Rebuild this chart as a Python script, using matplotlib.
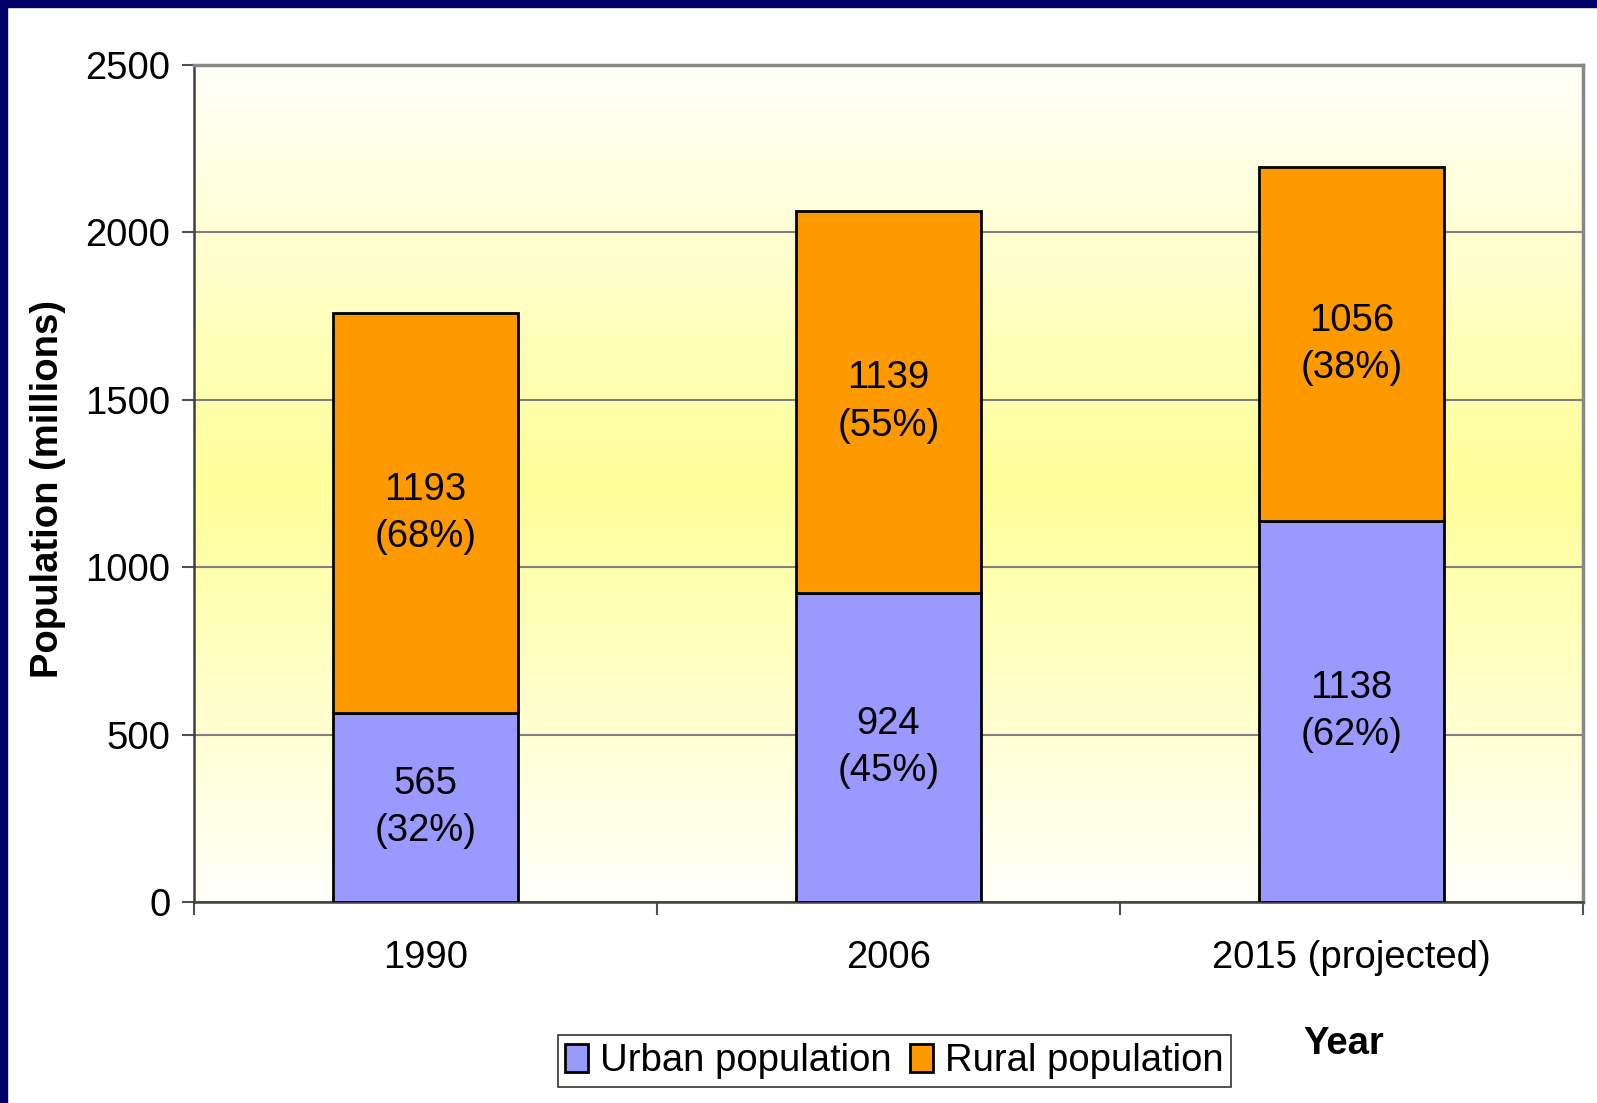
import matplotlib.pyplot as plt
import numpy as np
from matplotlib.colors import LinearSegmentedColormap
from matplotlib.patches import Rectangle

years = ['1990', '2006', '2015 (projected)']
urban = [565, 924, 1138]
rural = [1193, 1139, 1056]
urban_pct = [32, 45, 62]
rural_pct = [68, 55, 38]

plt.rcParams['font.family'] = ['Liberation Sans', 'DejaVu Sans']
fs = 27.5

fig = plt.figure(figsize=(15.97, 11.03), dpi=100)
fig.patch.set_facecolor('white')

# navy slide border on top and left
fig.patches.append(Rectangle((0, 1 - 7 / 1103), 1, 7 / 1103, transform=fig.transFigure,
                             color='#000066', zorder=0))
fig.patches.append(Rectangle((0, 0), 7 / 1597, 1, transform=fig.transFigure,
                             color='#000066', zorder=0))

ax = fig.add_axes([194 / 1597, 201 / 1103, (1583 - 194) / 1597, (902 - 65) / 1103])

# white -> yellow -> white background
cmap = LinearSegmentedColormap.from_list('bg', ['#FFFFFA', '#FFFF99', '#FFFFFA'])
grad = np.linspace(0, 1, 256).reshape(-1, 1)
ax.imshow(grad, cmap=cmap, aspect='auto', extent=[0, 1, 0, 1],
          transform=ax.transAxes, zorder=0)

x = np.arange(len(years))
w = 0.4
ax.bar(x, urban, w, color='#9999FF', edgecolor='black', linewidth=2,
       label='Urban population', zorder=3)
ax.bar(x, rural, w, bottom=urban, color='#FF9900', edgecolor='black', linewidth=2,
       label='Rural population', zorder=3)

for i in range(len(years)):
    ax.text(x[i], urban[i] / 2, f'{urban[i]}\n({urban_pct[i]}%)', ha='center', va='center',
            fontsize=fs, linespacing=1.4, zorder=4)
    ax.text(x[i], urban[i] + rural[i] / 2, f'{rural[i]}\n({rural_pct[i]}%)', ha='center',
            va='center', fontsize=fs, linespacing=1.4, zorder=4)

ax.set_xlim(-0.5, 2.5)
ax.set_ylim(0, 2500)
ax.set_yticks([0, 500, 1000, 1500, 2000, 2500])
ax.yaxis.grid(True, color='#808080', linewidth=1.5, zorder=1)
ax.set_axisbelow(True)

ax.set_xticks(x)
ax.set_xticklabels(years)
ax.set_xticks([-0.5, 0.5, 1.5, 2.5], minor=True)
ax.tick_params(axis='x', which='major', length=0, pad=27, labelsize=fs)
ax.tick_params(axis='x', which='minor', length=9, width=1.5, direction='out', color='#505050')
ax.tick_params(axis='y', length=9, width=1.5, direction='out', color='#505050', labelsize=fs, pad=8)

for side in ['left', 'bottom']:
    ax.spines[side].set_color('#404040')
    ax.spines[side].set_linewidth(1.8)
for side in ['top', 'right']:
    ax.spines[side].set_color('#888888')
    ax.spines[side].set_linewidth(2.5)

fig.text(0.030, 0.557, 'Population (millions)', rotation=90, ha='center', va='center',
         fontsize=fs, fontweight='bold')
fig.text(0.8417, 0.0535, 'Year', ha='center', va='center', fontsize=fs, fontweight='bold')

leg = fig.legend(loc='center', bbox_to_anchor=(0.56, 0.038), ncol=2, fontsize=fs,
                 frameon=True, fancybox=False, edgecolor='black', handlelength=0.6,
                 handleheight=0.75, handletextpad=0.3, columnspacing=0.5,
                 borderpad=0.2, borderaxespad=0)
leg.get_frame().set_linewidth(1.2)

fig.savefig('out.png', dpi=100)
